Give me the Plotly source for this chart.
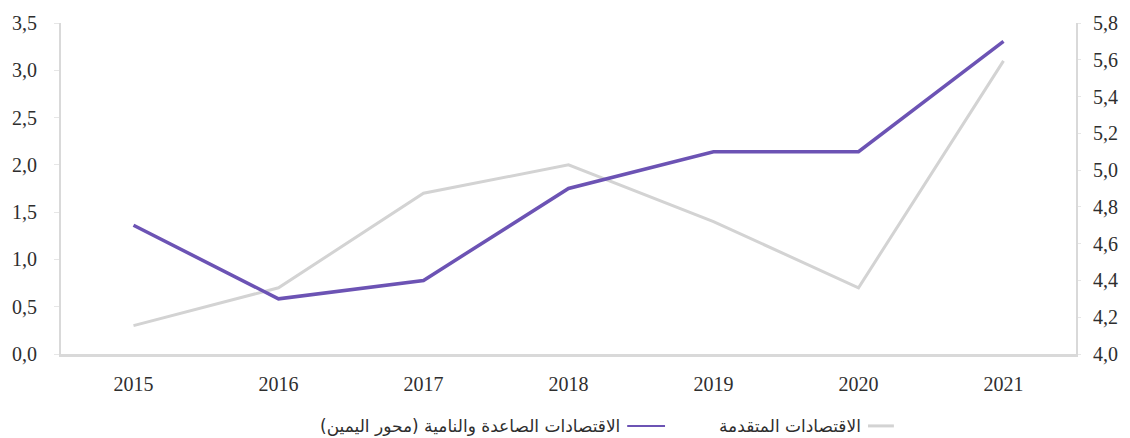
import plotly.graph_objects as go

# Years on the category axis
years = ["2015", "2016", "2017", "2018", "2019", "2020", "2021"]

# Advanced economies (left axis)
advanced = [0.3, 0.7, 1.7, 2.0, 1.4, 0.7, 3.1]
# Emerging and developing economies (right axis)
emerging = [4.7, 4.3, 4.4, 4.9, 5.1, 5.1, 5.7]

# Tick labels with comma decimals
left_ticks = [0.0, 0.5, 1.0, 1.5, 2.0, 2.5, 3.0, 3.5]
left_labels = ["0,0", "0,5", "1,0", "1,5", "2,0", "2,5", "3,0", "3,5"]
right_ticks = [4.0, 4.2, 4.4, 4.6, 4.8, 5.0, 5.2, 5.4, 5.6, 5.8]
right_labels = ["4,0", "4,2", "4,4", "4,6", "4,8", "5,0", "5,2", "5,4", "5,6", "5,8"]

# Legend labels
name_advanced = "الاقتصادات المتقدمة"
name_emerging = "الاقتصادات الصاعدة والنامية (محور اليمين)"

GRAY = "#d3d3d3"
PURPLE = "#6c53b4"
AXIS = "#d9d9d9"
TEXT = "#2e2e2e"

fig = go.Figure()
fig.add_trace(go.Scatter(
    x=years, y=advanced, mode="lines", name=name_advanced,
    line=dict(color=GRAY, width=3), yaxis="y"))
fig.add_trace(go.Scatter(
    x=years, y=emerging, mode="lines", name=name_emerging,
    line=dict(color=PURPLE, width=3.5), yaxis="y2"))

W, H = 1130, 438
L, R, T, B = 61, 49, 18, 84
pw, ph = W - L - R, H - T - B

def px_x(px):
    return (px - L) / pw

def px_y(py):
    return (H - B - py) / ph

tick_font = dict(family="Liberation Serif, DejaVu Serif, serif", size=20, color=TEXT)

fig.update_layout(
    width=W, height=H,
    margin=dict(l=L, r=R, t=T, b=B),
    paper_bgcolor="white", plot_bgcolor="white",
    showlegend=False,
    xaxis=dict(
        type="category", range=[-0.5, len(years) - 0.5],
        showgrid=False, zeroline=False,
        showline=True, linecolor=AXIS, linewidth=3,
        ticks="", tickfont=tick_font, ticklabelstandoff=10),
    yaxis=dict(
        range=[0, 3.5], tickvals=left_ticks, ticktext=left_labels,
        showgrid=False, zeroline=False,
        showline=True, linecolor=AXIS, linewidth=2,
        ticks="outside", ticklen=5, tickcolor="#e6e6e6",
        tickfont=tick_font, ticklabelstandoff=13),
    yaxis2=dict(
        range=[4.0, 5.8], tickvals=right_ticks, ticktext=right_labels,
        overlaying="y", side="right",
        showgrid=False, zeroline=False,
        showline=True, linecolor=AXIS, linewidth=2,
        ticks="outside", ticklen=3, tickcolor="#e6e6e6",
        tickfont=tick_font, ticklabelstandoff=8),
)

# Right-to-left legend: swatch on the right of each label
leg_y = px_y(427)
legend_font = dict(family="DejaVu Sans, Noto Sans, sans-serif", size=17, color=TEXT)
fig.add_shape(type="line", xref="paper", yref="paper",
              x0=px_x(872), x1=px_x(898), y0=leg_y, y1=leg_y,
              line=dict(color=GRAY, width=3))
fig.add_annotation(xref="paper", yref="paper", x=px_x(867), y=leg_y,
                   text=name_advanced, showarrow=False,
                   xanchor="right", yanchor="middle", font=legend_font)
fig.add_shape(type="line", xref="paper", yref="paper",
              x0=px_x(630), x1=px_x(668), y0=leg_y, y1=leg_y,
              line=dict(color=PURPLE, width=2))
fig.add_annotation(xref="paper", yref="paper", x=px_x(625), y=leg_y,
                   text=name_emerging, showarrow=False,
                   xanchor="right", yanchor="middle", font=legend_font)

fig.write_html("out.html")
